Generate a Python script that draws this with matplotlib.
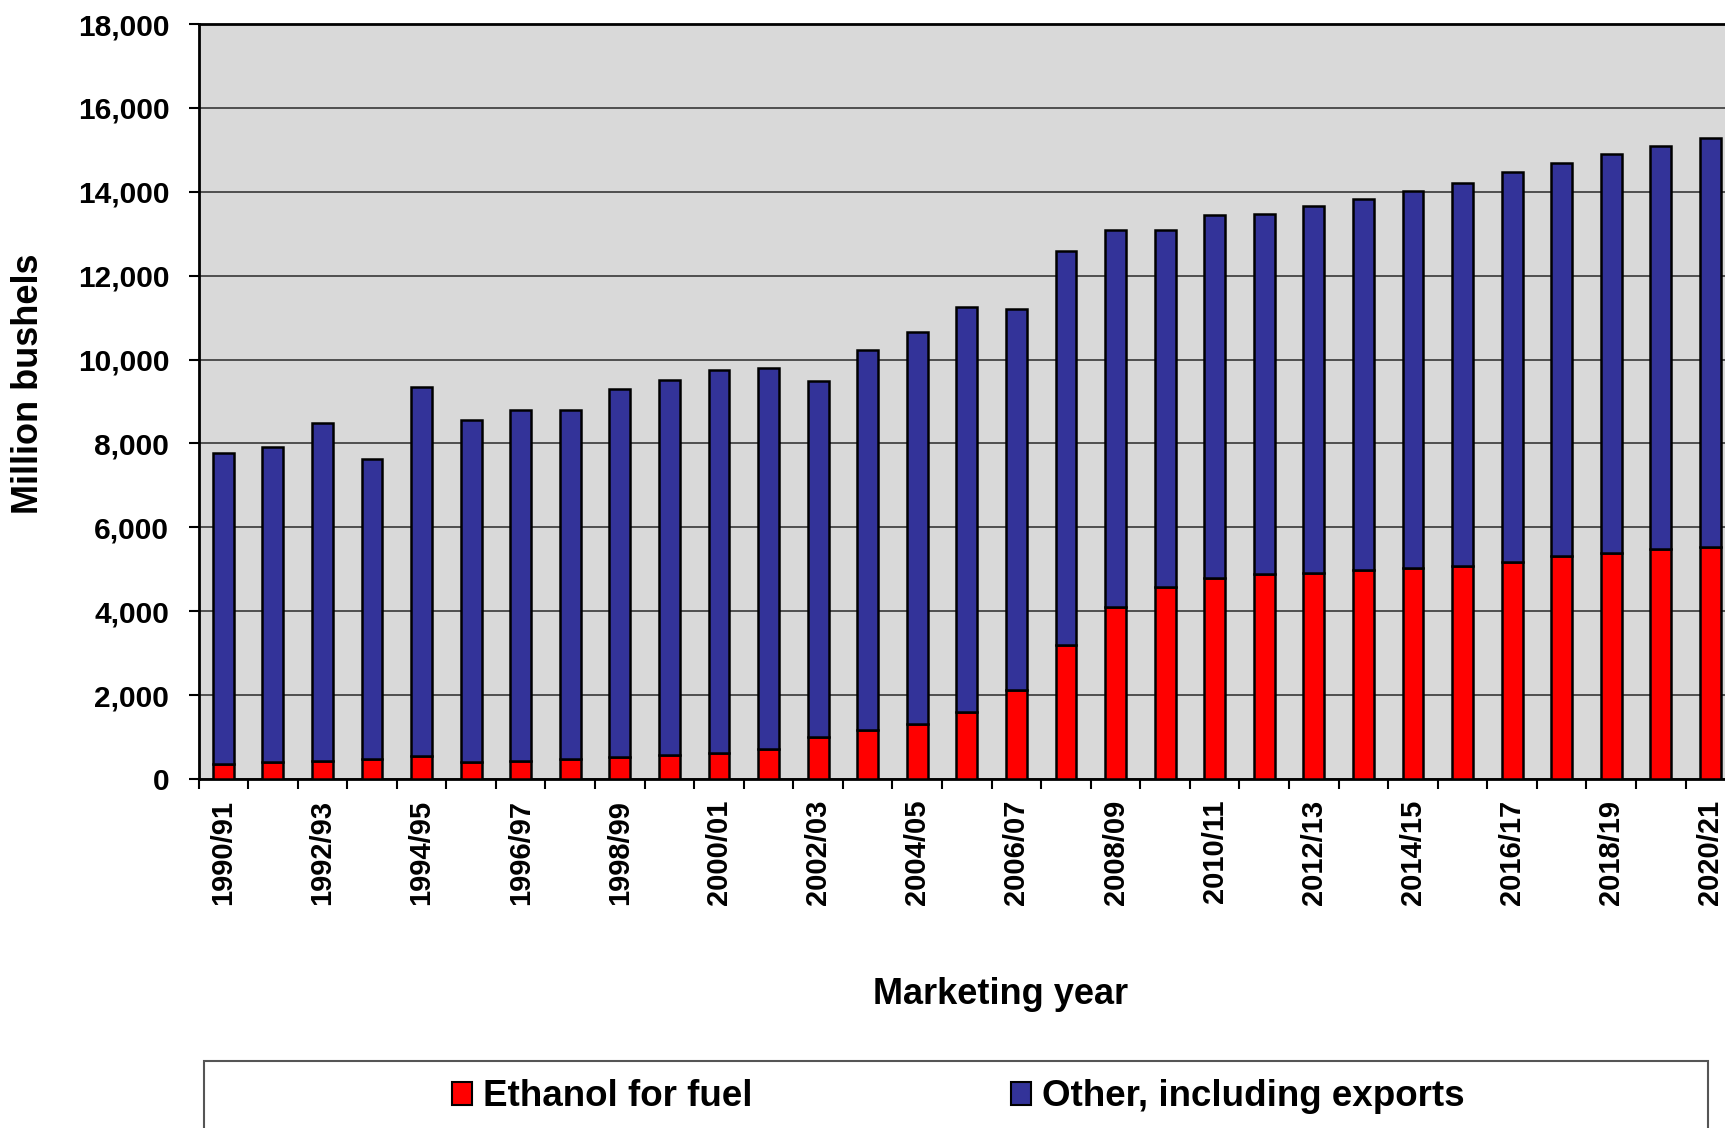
import matplotlib
matplotlib.use("Agg")
import matplotlib.pyplot as plt
from matplotlib.patches import Rectangle, Patch
from matplotlib.ticker import FixedLocator, FuncFormatter

plt.rcParams['font.family'] = ['Liberation Sans', 'DejaVu Sans']
plt.rcParams['font.weight'] = 'bold'

years = ["1990/91", "1991/92", "1992/93", "1993/94", "1994/95", "1995/96", "1996/97",
         "1997/98", "1998/99", "1999/00", "2000/01", "2001/02", "2002/03", "2003/04",
         "2004/05", "2005/06", "2006/07", "2007/08", "2008/09", "2009/10", "2010/11",
         "2011/12", "2012/13", "2013/14", "2014/15", "2015/16", "2016/17", "2017/18",
         "2018/19", "2019/20", "2020/21"]

totals = [7770, 7920, 8480, 7640, 9340, 8550, 8790, 8790, 9290, 9520, 9740, 9810,
          9500, 10230, 10665, 11260, 11215, 12590, 13090, 13080, 13440, 13470, 13650,
          13830, 14020, 14200, 14460, 14690, 14900, 15100, 15290]

ethanol = [358, 397, 429, 469, 548, 397, 429, 485, 525, 572, 628, 715, 1001, 1160,
           1320, 1605, 2120, 3195, 4090, 4570, 4800, 4880, 4920, 4975, 5020, 5070,
           5165, 5310, 5395, 5475, 5525]

other = [t - e for t, e in zip(totals, ethanol)]

yticks = list(range(0, 18001, 2000))

RED = "#FF0000"
BLUE = "#333399"

W, H = 1725, 1128
fig = plt.figure(figsize=(W / 100, H / 100), dpi=100)
fig.patch.set_facecolor("white")

left_px, right_px = 198.5, 198.5 + 31 * 49.57
top_px, bot_px = 24, 779
ax = fig.add_axes([left_px / W, 1 - bot_px / H, (right_px - left_px) / W, (bot_px - top_px) / H])
ax.set_facecolor("#D9D9D9")

x = list(range(len(years)))
bw = 0.42
ax.bar(x, ethanol, width=bw, color=RED, edgecolor="black", linewidth=1.8, zorder=3)
ax.bar(x, other, width=bw, bottom=ethanol, color=BLUE, edgecolor="black", linewidth=1.8, zorder=3)

ax.set_xlim(-0.5, len(years) - 0.5)
ax.set_ylim(0, 18000)
ax.set_yticks(yticks)
ax.yaxis.set_major_formatter(FuncFormatter(lambda v, p: f"{int(v):,}"))
ax.grid(axis="y", color="#2a2a2a", linewidth=1.1, zorder=1)
ax.set_axisbelow(True)

# major x ticks at category boundaries (no labels)
ax.xaxis.set_major_locator(FixedLocator([i - 0.5 for i in range(len(years) + 1)]))
ax.xaxis.set_major_formatter(FuncFormatter(lambda v, p: ""))
# minor ticks at every other category center carry the labels
lab_pos = x[::2]
ax.xaxis.set_minor_locator(FixedLocator(lab_pos))
ax.xaxis.set_minor_formatter(FuncFormatter(lambda v, p: years[int(round(v))]))
ax.tick_params(axis="x", which="major", direction="out", length=7, width=1.5, color="black")
ax.tick_params(axis="x", which="minor", length=0, pad=15, labelsize=21, labelrotation=90)
ax.tick_params(axis="y", which="major", direction="out", length=7, width=1.5, pad=14, labelsize=21.5)
for lab in ax.get_xticklabels(minor=True) + ax.get_yticklabels():
    lab.set_fontweight("bold")

for s in ["top", "left", "bottom"]:
    ax.spines[s].set_linewidth(2)
    ax.spines[s].set_color("black")
ax.spines["right"].set_visible(False)

fig.text(28.6 / W, 1 - 384 / H, "Million bushels", rotation=90, ha="center", va="center",
         fontsize=26, fontweight="bold")
fig.text(1001 / W, 1 - 995 / H, "Marketing year", ha="center", va="center",
         fontsize=26, fontweight="bold")

# legend frame (extends below the figure edge)
fig.patches.append(Rectangle((203.5 / W, -0.05), (1708 - 203.5) / W, 0.05 + 1 - 1061 / H,
                             transform=fig.transFigure, facecolor="white",
                             edgecolor="#555555", linewidth=1.5, zorder=0))

leg_y = 1 - 1097 / H
for px, lab, col in [(452, "Ethanol for fuel", RED), (1011, "Other, including exports", BLUE)]:
    lg = fig.legend(handles=[Patch(facecolor=col, edgecolor="black", linewidth=1.5, label=lab)],
                    loc="center left", bbox_to_anchor=(px / W, leg_y), frameon=False,
                    borderpad=0, borderaxespad=0, handlelength=0.55, handleheight=0.55,
                    handletextpad=0.3, prop={"size": 26.5, "weight": "bold"})

fig.savefig("out.png", dpi=100)
